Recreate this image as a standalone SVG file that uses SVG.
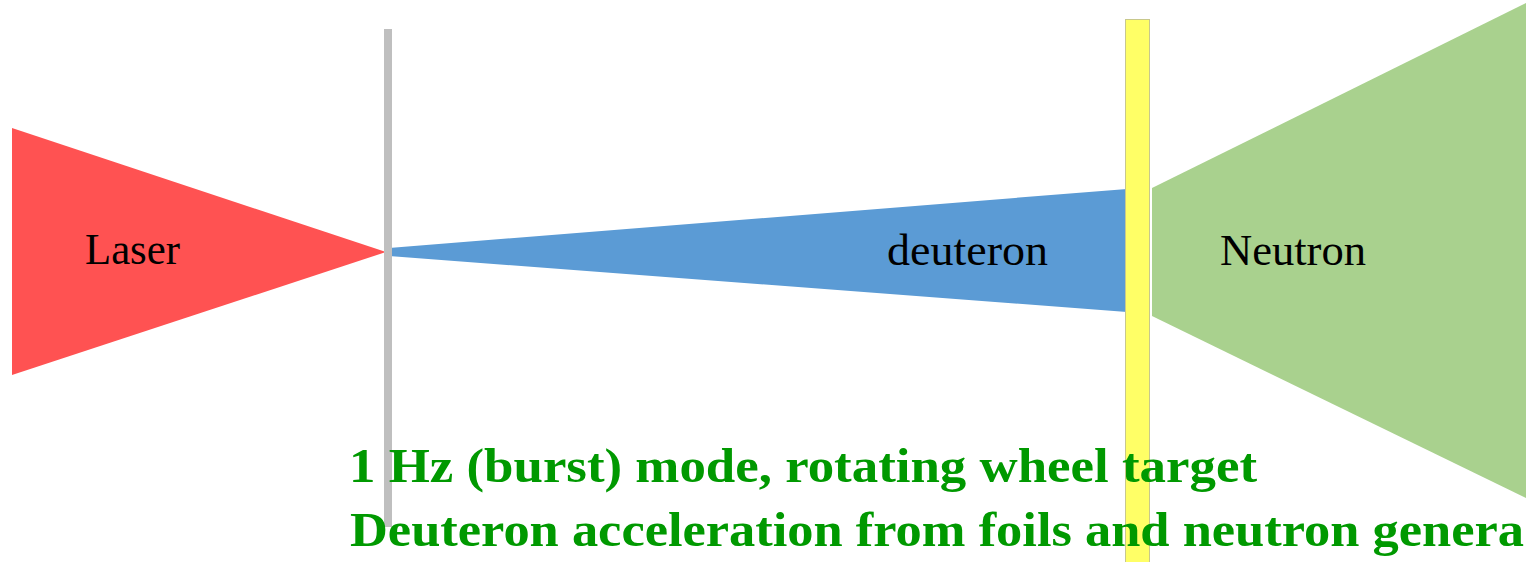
<svg xmlns="http://www.w3.org/2000/svg" width="1526" height="562" viewBox="0 0 1526 562">
  <style>
    .lbl { font-family: "Liberation Serif", "Times New Roman", serif; font-size: 44px; fill: #000000; }
    .note { font-family: "Liberation Serif", "Times New Roman", serif; font-size: 48px; font-weight: bold; fill: #009900; }
  </style>
  <rect x="0" y="0" width="1526" height="562" fill="#ffffff"/>
  <g id="laser">
    <polygon points="12,128 12,375 386,252" fill="#ff5252"/>
    <text class="lbl" x="85" y="264" textLength="95" lengthAdjust="spacingAndGlyphs">Laser</text>
  </g>
  <g id="deuteron">
    <polygon points="389,248 1127,189 1127,312 389,256" fill="#5b9bd5"/>
    <text class="lbl" x="887" y="265" textLength="161" lengthAdjust="spacingAndGlyphs">deuteron</text>
  </g>
  <g id="neutron">
    <polygon points="1152,188 1526,3 1526,498 1152,316" fill="#a9d18e"/>
    <text class="lbl" x="1220" y="265" textLength="146" lengthAdjust="spacingAndGlyphs">Neutron</text>
  </g>
  <g id="foil">
    <rect x="384" y="29" width="8" height="498" fill="#bfbfbf"/>
  </g>
  <g id="converter">
    <rect x="1125.5" y="19.5" width="24" height="545" fill="#ffff66" stroke="#c8c88c" stroke-width="1"/>
  </g>
  <g id="connectors"></g>
  <g id="caption">
    <text class="note" x="349" y="482" textLength="908" lengthAdjust="spacingAndGlyphs">1 Hz (burst) mode, rotating wheel target</text>
    <text class="note" x="350" y="546" textLength="1174" lengthAdjust="spacingAndGlyphs">Deuteron acceleration from foils and neutron genera</text>
  </g>
</svg>
